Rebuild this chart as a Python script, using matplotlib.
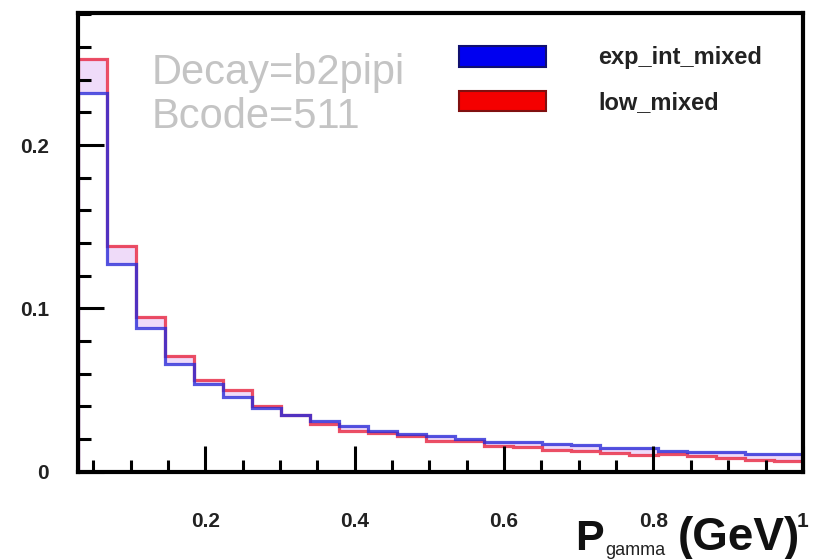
import matplotlib
matplotlib.use("Agg")
import matplotlib.pyplot as plt
import numpy as np
from matplotlib.patches import Patch
from matplotlib.ticker import MultipleLocator

plt.rcParams['font.family'] = ['Liberation Sans', 'DejaVu Sans']

# ================= DATA =================
x_lo, x_hi, n_bins = 0.03, 1.0, 25
bin_edges = np.linspace(x_lo, x_hi, n_bins + 1)

exp_int_mixed = [0.232, 0.127, 0.088, 0.066, 0.054, 0.046, 0.039, 0.035, 0.031,
                 0.028, 0.025, 0.023, 0.022, 0.020, 0.018, 0.018, 0.017, 0.0165,
                 0.0145, 0.0145, 0.013, 0.012, 0.012, 0.011, 0.011]
low_mixed = [0.253, 0.138, 0.095, 0.071, 0.056, 0.050, 0.040, 0.035, 0.029,
             0.025, 0.024, 0.022, 0.019, 0.019, 0.016, 0.015, 0.0135, 0.0125,
             0.0115, 0.0105, 0.011, 0.0095, 0.0085, 0.0075, 0.0065]

series_names = ["exp_int_mixed", "low_mixed"]
series_colors = ["#2a2ad8", "#e8304a"]
x_ticks = [0.2, 0.4, 0.6, 0.8, 1.0]
x_tick_labels = ["0.2", "0.4", "0.6", "0.8", "1"]
y_ticks = [0, 0.1, 0.2]
y_tick_labels = ["0", "0.1", "0.2"]

# ================= PLOT =================
fig = plt.figure(figsize=(8.32, 5.59), dpi=100)
ax = fig.add_axes([0.094, 0.156, 0.871, 0.821])

# band between the two histograms
ax.fill_between(bin_edges, np.append(exp_int_mixed, exp_int_mixed[-1]),
                np.append(low_mixed, low_mixed[-1]), step='post',
                color='#d9a6f2', alpha=0.4, linewidth=0)
ax.stairs(low_mixed, bin_edges, color=series_colors[1], linewidth=2.3, alpha=0.85)
ax.stairs(exp_int_mixed, bin_edges, color=series_colors[0], linewidth=2.3, alpha=0.8)

ax.set_xlim(x_lo, x_hi)
ax.set_ylim(0, 0.281)

ax.set_xticks(x_ticks)
ax.set_xticklabels(x_tick_labels)
ax.xaxis.set_minor_locator(MultipleLocator(0.05))
ax.set_yticks(y_ticks)
ax.set_yticklabels(y_tick_labels)
ax.yaxis.set_minor_locator(MultipleLocator(0.02))

ax.tick_params(which='major', direction='in', length=19, width=2.2, color='black',
               labelsize=15, labelcolor='#222222')
ax.tick_params(which='minor', direction='in', length=9, width=2.2, color='black')
ax.tick_params(axis='x', which='both', top=False, pad=29)
ax.tick_params(axis='y', which='both', right=False, pad=21)
for lab in ax.get_xticklabels() + ax.get_yticklabels():
    lab.set_fontweight('bold')

for sp in ax.spines.values():
    sp.set_linewidth(3)
    sp.set_color('black')

# ===== info text =====
ax.text(0.101, 0.868, "Decay=b2pipi", transform=ax.transAxes, fontsize=30,
        color='#c4c4c4', va='center', ha='left')
ax.text(0.101, 0.774, "Bcode=511", transform=ax.transAxes, fontsize=30,
        color='#c4c4c4', va='center', ha='left')

# ===== legend =====
handles = [Patch(facecolor='#0000f0', edgecolor='#101070', linewidth=1.5),
           Patch(facecolor='#f40000', edgecolor='#801010', linewidth=1.5)]
ax.legend(handles, series_names, loc='upper left', bbox_to_anchor=(0.512, 0.948),
          frameon=False, prop={'size': 17, 'weight': 'bold'},
          handlelength=3.7, handleheight=0.95, handletextpad=2.2,
          labelspacing=0.9, borderaxespad=0)
for t in ax.get_legend().get_texts():
    t.set_color('#222222')

# ===== axis title =====
fig.text(0.691, 0.016, "P", ha='left', va='baseline', fontsize=31,
         fontweight='bold', color='#111111')
fig.text(0.727, 0.008, "gamma", ha='left', va='baseline', fontsize=13,
         color='#222222')
fig.text(0.962, 0.016, "(GeV)", ha='right', va='baseline', fontsize=33,
         fontweight='bold', color='#111111')

fig.savefig("out.png", dpi=100)
